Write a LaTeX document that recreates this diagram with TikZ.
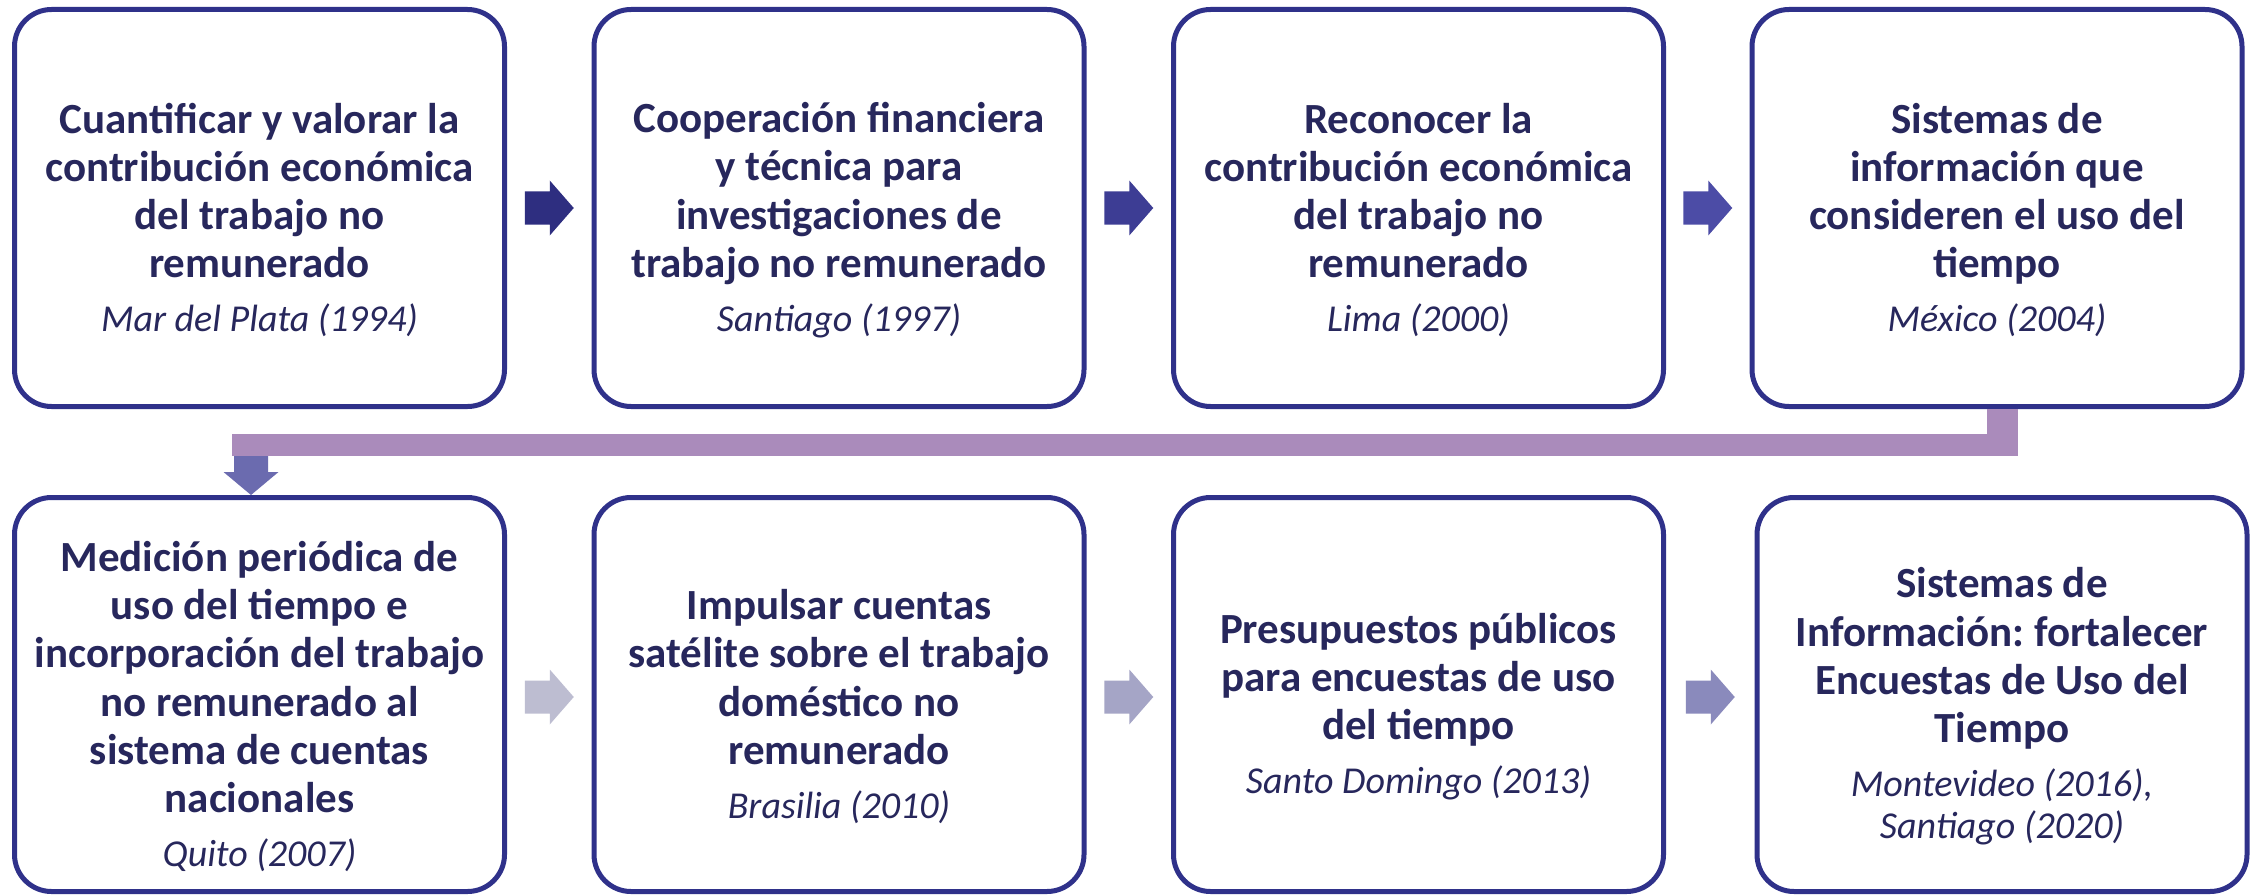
\documentclass[tikz,border=0pt]{standalone}
\usepackage{fontspec}
\setmainfont{Carlito}
\usetikzlibrary{calc}
\definecolor{boxc}{HTML}{2F318A}
\definecolor{txtc}{HTML}{27275C}
\definecolor{ua}{HTML}{2E2E80}
\definecolor{ub}{HTML}{3D3D94}
\definecolor{uc}{HTML}{4C4CA6}
\definecolor{la}{HTML}{BDBDD1}
\definecolor{lb}{HTML}{A5A5C6}
\definecolor{lc}{HTML}{8A8ABC}
\definecolor{barc}{HTML}{AA8BBB}
\definecolor{downc}{HTML}{6B6BAF}
\newcommand\btxt[1]{\par\vspace*{6pt}{\centering\frenchspacing\spaceskip=0pt\xspaceskip=0pt\bfseries\fontsize{43}{48.3}\selectfont #1\par}}
\newcommand\ytxt[1]{{\vspace{12pt}\centering\frenchspacing\spaceskip=0pt\xspaceskip=0pt\itshape\fontsize{38}{42}\selectfont #1\par}}
\tikzset{
  pics/rarr/.style={code={\fill[#1] (-24.5,-16.5) -- (0.5,-16.5) -- (0.5,-27.5) -- (24.5,0) -- (0.5,27.5) -- (0.5,16.5) -- (-24.5,16.5) -- cycle;}},
  box/.style={draw=boxc, line width=5pt, rounded corners=37pt, minimum width=490pt,
    text width=484pt, text=txtc, inner sep=0pt},
  toprow/.style={box, minimum height=397pt},
  botrow/.style={box, minimum height=394pt}
}
\begin{document}
\begin{tikzpicture}[x=1pt,y=-1pt]
\useasboundingbox[fill=white] (0,0) rectangle (2258,896);
% top row
\node[toprow] (b1) at (259.5,208) {\btxt{Cuantificar y valorar la\\contribución económica\\del trabajo no\\remunerado}\ytxt{Mar del Plata (1994)}};
\node[toprow] (b2) at (839,208) {\btxt{Cooperación financiera\\y técnica para\\investigaciones de\\trabajo no remunerado}\ytxt{Santiago (1997)}};
\node[toprow] (b3) at (1418.5,208) {\btxt{Reconocer la\\contribución económica\\del trabajo no\\remunerado}\ytxt{Lima (2000)}};
\node[toprow] (b4) at (1997,208) {\btxt{Sistemas de\\información que\\consideren el uso del\\tiempo}\ytxt{México (2004)}};
% bottom row
\node[botrow] (b5) at (259.5,694.5) {\btxt{Medición periódica de\\uso del tiempo e\\incorporación del trabajo\\no remunerado al\\sistema de cuentas\\nacionales}\ytxt{Quito (2007)}};
\node[botrow] (b6) at (839,694.5) {\btxt{Impulsar cuentas\\satélite sobre el trabajo\\doméstico no\\remunerado}\ytxt{Brasilia (2010)}};
\node[botrow] (b7) at (1418.5,694.5) {\btxt{Presupuestos públicos\\para encuestas de uso\\del tiempo}\ytxt{Santo Domingo (2013)}};
\node[botrow] (b8) at (2002,694.5) {\btxt{Sistemas de\\Información: fortalecer\\Encuestas de Uso del\\Tiempo}\ytxt{Montevideo (2016),\\Santiago (2020)}};
% block arrows
\pic at ($(b1.east)!0.5!(b2.west)$) {rarr=ua};
\pic at ($(b2.east)!0.5!(b3.west)$) {rarr=ub};
\pic at ($(b3.east)!0.5!(b4.west)$) {rarr=uc};
\pic at ($(b5.east)!0.5!(b6.west)+(0,2.5)$) {rarr=la};
\pic at ($(b6.east)!0.5!(b7.west)+(0,2.5)$) {rarr=lb};
\pic at ($(b7.east)!0.5!(b8.west)+(0,2.5)$) {rarr=lc};
% elbow connector from b4 to b5
\coordinate (st) at (b4.south);
\coordinate (dt) at ($(b5.north)+(-8.5,0)$);
\fill[barc] ($(st)+(-10,0)$) rectangle ($(st)+(21,25.5)$);
\fill[barc] ($(st)+(21,25)$) rectangle ($(b5.north)+(-27.5,-39)$);
\begin{scope}[shift={(dt)}]
\fill[downc] (-17,-39) -- (17,-39) -- (17,-23) -- (27.5,-23) -- (0,0) -- (-27.5,-23) -- (-17,-23) -- cycle;
\end{scope}
\end{tikzpicture}
\end{document}
